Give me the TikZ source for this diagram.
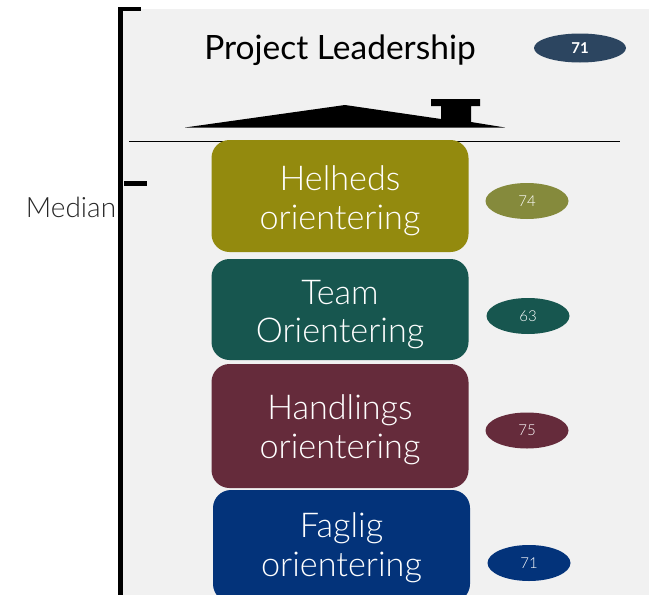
\documentclass[tikz,border=0pt]{standalone}
\usepackage{fontspec}
\setmainfont[UprightFont=* Light,BoldFont=* Bold]{Lato}
\newfontfamily\titlefont{Lato}
\definecolor{panel}{HTML}{F1F1F1}
\definecolor{cOlive}{HTML}{938A0E}
\definecolor{cOliveL}{HTML}{858A3C}
\definecolor{cTeal}{HTML}{17564F}
\definecolor{cMaroon}{HTML}{652B3B}
\definecolor{cNavy}{HTML}{03337A}
\definecolor{cSlate}{HTML}{2C4560}
\newcommand{\lowered}[2]{\raisebox{-#1pt}[0pt][0pt]{#2}}
\tikzset{
  orientbox/.style={rounded corners=18pt,minimum width=257pt,inner sep=0pt,align=center,text=white,font=\fontsize{34.2}{38.5}\selectfont},
  score/.style={ellipse,inner sep=0pt,minimum width=83pt,minimum height=36pt,text=white,font=\fontsize{15}{17}\selectfont},
  barline/.style={fill=black}
}
\usetikzlibrary{shapes.geometric}
\begin{document}
\begin{tikzpicture}[x=1pt,y=-1pt]
\useasboundingbox (0,0) rectangle (649,595);
\clip (0,0) rectangle (649,595);
\fill[panel] (120,9) rectangle (649,595);
\fill[barline] (118,7) rectangle (122.7,595);
\fill[barline] (118,6.5) rectangle (141,10.5);
\fill[barline] (124,180.5) rectangle (147,185.5);
\draw[line width=0.9pt] (129,141.5) -- (620,141.5);
\fill[black] (185,127.5) -- (345,105) -- (441,119) -- (441,106) -- (431,106) -- (431,99) -- (480,99) -- (480,106) -- (471,106) -- (471,122) -- (505,127.5) -- cycle;
\node[anchor=center,font=\titlefont\fontsize{33.5}{40}\selectfont] (title) at (340,50) {Project Leadership};
\node[anchor=center,font=\fontsize{28}{30}\selectfont,text=black!85] (median) at (71,207) {Median};
\node[score,fill=cSlate,minimum width=92pt,minimum height=29pt,font=\fontsize{15}{17}\selectfont\bfseries] (s0) at (580,48) {71};
\node[orientbox,fill=cOlive,minimum height=112pt] (b1) at (340,196) {\lowered{14}{Helheds}\\\lowered{14}{orientering}};
\node[orientbox,fill=cTeal,minimum height=101pt] (b2) at (340,309.5) {\lowered{14}{Team}\\\lowered{14}{Orientering}};
\node[orientbox,fill=cMaroon,minimum height=124pt] (b3) at (340,426) {\lowered{13}{Handlings}\\\lowered{13}{orientering}};
\node[orientbox,fill=cNavy,minimum height=112pt] (b4) at (341.5,546) {\lowered{11}{Faglig}\\\lowered{11}{orientering}};
\node[score,fill=cOliveL] (s1) at (527,201) {74};
\node[score,fill=cTeal] (s2) at (528,316) {63};
\node[score,fill=cMaroon] (s3) at (527,430.5) {75};
\node[score,fill=cNavy] (s4) at (529,563) {71};
\end{tikzpicture}
\end{document}
